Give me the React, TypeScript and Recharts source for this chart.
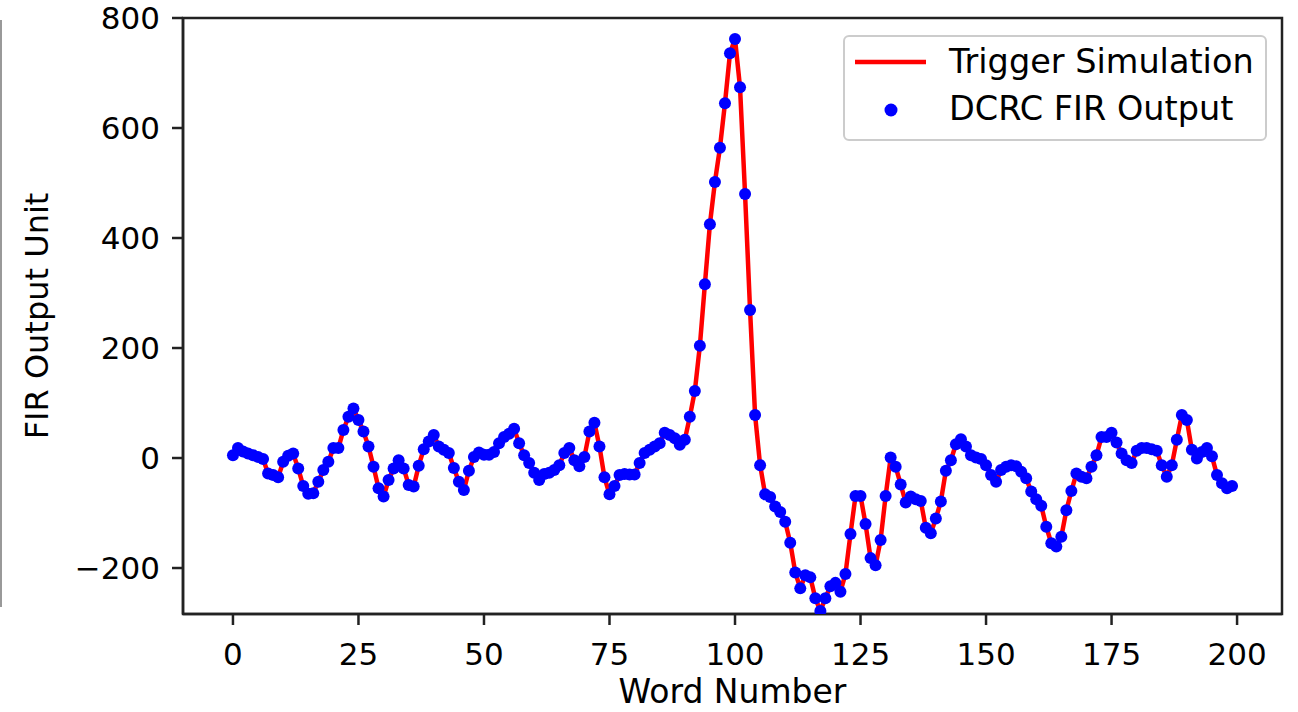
import { LineChart, Line, XAxis, YAxis, Legend, ReferenceArea } from "recharts"

const wordNumbers = Array.from({ length: 200 }, (_, i) => i)

// word 0 .. 199
const triggerSimulation = [
  5, 18, 12, 8, 5, 2, -2, -28, -31, -35,
  -7, 4, 8, -19, -51, -65, -64, -43, -22, -7,
  18, 18, 51, 75, 90, 69, 48, 21, -16, -55,
  -70, -40, -19, -4, -19, -49, -52, -14, 16, 30,
  42, 21, 15, 9, -18, -43, -58, -23, 2, 10,
  6, 6, 11, 27, 38, 44, 53, 27, 5, -9,
  -27, -40, -29, -27, -22, -13, 9, 18, -4, -15,
  2, 48, 64, 21, -35, -66, -51, -31, -29, -30,
  -30, -9, 9, 15, 21, 27, 46, 42, 36, 24,
  33, 75, 122, 204, 316, 425, 502, 564, 645, 736,
  762, 674, 480, 269, 78, -13, -66, -71, -88, -98,
  -116, -154, -208, -237, -213, -217, -255, -278, -255, -233,
  -227, -243, -211, -138, -69, -69, -120, -182, -195, -149,
  -69, 1, -16, -48, -81, -70, -75, -78, -127, -137,
  -110, -79, -23, -4, 25, 34, 21, 5, 1, -2,
  -13, -31, -43, -22, -16, -13, -15, -25, -37, -61,
  -75, -87, -125, -155, -161, -143, -95, -60, -28, -34,
  -37, -16, 5, 38, 38, 46, 28, 8, -4, -9,
  13, 18, 18, 16, 13, -13, -34, -13, 33, 78,
  69, 15, -1, 11, 18, 3, -31, -46, -55, -51,
]

// the FIR output sits on the simulation everywhere
const dcrcFirOutput = [...triggerSimulation]

const xTicks = [0, 25, 50, 75, 100, 125, 150, 175, 200]
const yTicks = [-200, 0, 200, 400, 600, 800]

const SIM_NAME = "Trigger Simulation"
const FIR_NAME = "DCRC FIR Output"
const SIM_COLOR = "#ff0000"
const FIR_COLOR = "#0000ff"

const data = wordNumbers.map((w, i) => ({
  word: w,
  sim: triggerSimulation[i],
  fir: dcrcFirOutput[i],
}))

const X_DOMAIN: [number, number] = [-9.95, 208.95]
const Y_DOMAIN: [number, number] = [-283.6, 800]

const font = "DejaVu Sans, sans-serif"
const axisStroke = { stroke: "#222", strokeWidth: 2.5 }
const tickStyle = { fill: "#000", fontSize: 31, fontFamily: font }

const fmt = (v: number) => (v < 0 ? `\u2212${-v}` : `${v}`)

function FigureLegend() {
  return (
    <svg width={424} height={106} style={{ display: "block" }}>
      <rect x={1} y={1} width={422} height={104} rx={5} fill="#fff" fillOpacity={0.8} stroke="#cccccc" strokeWidth={2} />
      <line x1={12} y1={27} x2={83} y2={27} stroke={SIM_COLOR} strokeWidth={4.5} />
      <text x={106} y={38} fontSize={33.5} fontFamily={font} fill="#000">
        {SIM_NAME}
      </text>
      <circle cx={48} cy={75} r={6.5} fill={FIR_COLOR} />
      <text x={106} y={85} fontSize={33.5} fontFamily={font} fill="#000">
        {FIR_NAME}
      </text>
    </svg>
  )
}

export default function App() {
  return (
    <div style={{ position: "absolute", left: 0, top: 0, width: 1298, height: 712, background: "#fff", fontFamily: font }}>
      <div style={{ position: "absolute", left: 0, top: 20, width: 2, height: 587, background: "#999" }} />
      <LineChart width={1298} height={712} data={data} margin={{ top: 18, right: 16, bottom: 0, left: 0 }}>
        <XAxis
          type="number"
          dataKey="word"
          domain={X_DOMAIN}
          allowDataOverflow
          ticks={xTicks}
          interval={0}
          height={98}
          tickSize={11}
          tickMargin={18}
          axisLine={axisStroke}
          tickLine={axisStroke}
          tick={tickStyle}
          label={{ value: "Word Number", position: "insideBottom", offset: 9, fill: "#000", fontSize: 33, fontFamily: font }}
        />
        <YAxis
          type="number"
          domain={Y_DOMAIN}
          allowDataOverflow
          ticks={yTicks}
          interval={0}
          width={183}
          tickSize={11}
          tickMargin={12}
          axisLine={axisStroke}
          tickLine={axisStroke}
          tick={tickStyle}
          tickFormatter={fmt}
          label={{
            value: "FIR Output Unit",
            angle: -90,
            position: "insideLeft",
            offset: 37,
            style: { textAnchor: "middle" },
            fill: "#000",
            fontSize: 32,
            fontFamily: font,
          }}
        />
        <ReferenceArea
          x1={X_DOMAIN[0]}
          x2={X_DOMAIN[1]}
          y1={Y_DOMAIN[0]}
          y2={Y_DOMAIN[1]}
          fill="none"
          stroke="#222"
          strokeWidth={2.5}
          ifOverflow="visible"
        />
        <Line
          type="linear"
          dataKey="sim"
          name={SIM_NAME}
          stroke={SIM_COLOR}
          strokeWidth={4.5}
          strokeLinejoin="round"
          dot={false}
          activeDot={false}
          legendType="line"
          isAnimationActive={false}
        />
        <Line
          type="linear"
          dataKey="fir"
          name={FIR_NAME}
          stroke="none"
          dot={{ r: 6, fill: FIR_COLOR, stroke: "none" }}
          activeDot={false}
          legendType="circle"
          isAnimationActive={false}
        />
        <Legend
          layout="vertical"
          align="center"
          verticalAlign="middle"
          content={() => <FigureLegend />}
          wrapperStyle={{ left: 843, top: 35, width: 424, height: 106 }}
        />
      </LineChart>
    </div>
  )
}
